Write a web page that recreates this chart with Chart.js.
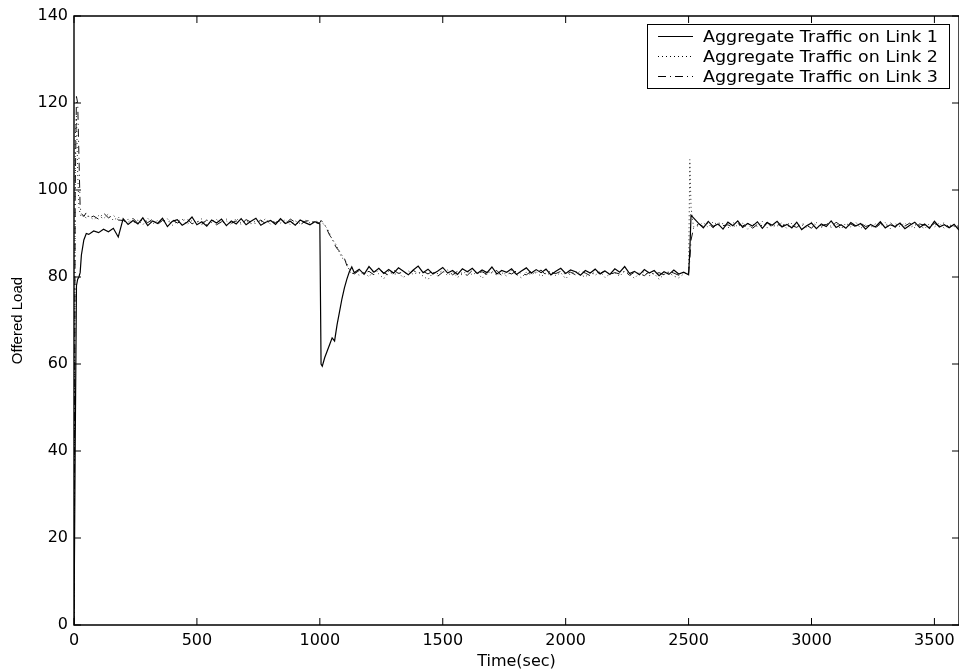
<!DOCTYPE html>
<html><head><meta charset="utf-8">
<script src="https://cdn.jsdelivr.net/npm/chart.js@4/dist/chart.umd.min.js"></script>
<style>html,body{margin:0;padding:0;background:#fff;overflow:hidden}canvas{display:block}</style>
</head><body>
<canvas id="c" width="959" height="671"></canvas>
<script>
const seriesNames = ['Aggregate Traffic on Link 1','Aggregate Traffic on Link 2','Aggregate Traffic on Link 3'];
const xTickValues = [0,500,1000,1500,2000,2500,3000,3500];
const yTickValues = [0,20,40,60,80,100,120,140];

const times = [
0,5,10,15,20,25,30,40,50,60,
80,100,120,140,160,180,200,220,240,260,
280,300,320,340,360,380,400,420,440,460,
480,500,520,540,560,580,600,620,640,660,
680,700,720,740,760,780,800,820,840,860,
880,900,920,940,960,980,1000,
1005,1010,1020,1030,1040,1050,1060,1070,1080,1090,1100,1110,1120,1130,1140,
1160,1180,1200,1220,1240,1260,1280,1300,1320,1340,
1360,1380,1400,1420,1440,1460,1480,1500,1520,1540,
1560,1580,1600,1620,1640,1660,1680,1700,1720,1740,
1760,1780,1800,1820,1840,1860,1880,1900,1920,1940,
1960,1980,2000,2020,2040,2060,2080,2100,2120,2140,
2160,2180,2200,2220,2240,2260,2280,2300,2320,2340,
2360,2380,2400,2420,2440,2460,2480,2500,
2505,2510,2520,
2540,2560,2580,2600,2620,2640,2660,2680,2700,2720,
2740,2760,2780,2800,2820,2840,2860,2880,2900,2920,
2940,2960,2980,3000,3020,3040,3060,3080,3100,3120,
3140,3160,3180,3200,3220,3240,3260,3280,3300,3320,
3340,3360,3380,3400,3420,3440,3460,3480,3500,3520,
3540,3560,3580,3600];

const link1 = [
0,42,78,79.5,80,81,85,88.5,90,89.8,
90.6,90.2,91.0,90.4,91.2,89.2,93.4,92.1,93.0,92.2,
93.6,91.8,92.9,92.3,93.5,91.6,92.8,93.2,91.9,92.6,
93.8,92.0,92.7,91.7,93.1,92.4,93.3,91.8,92.9,92.2,
93.4,92.0,92.8,93.5,91.9,92.6,93.0,92.1,93.4,92.3,
92.8,91.9,93.1,92.5,92.0,92.7,92.2,
60.0,59.5,61.5,63.0,64.5,66.0,65.3,69.0,72.0,75.0,77.5,79.5,81.2,82.3,81.0,
81.8,80.6,82.4,81.1,82.0,80.8,81.7,80.9,82.1,81.3,
80.5,81.6,82.5,81.0,81.8,80.7,81.4,82.2,80.9,81.5,
80.6,81.9,81.2,82.0,80.8,81.6,81.0,82.3,80.7,81.5,
81.1,81.9,80.6,81.4,82.1,80.9,81.7,81.0,81.8,80.5,
81.3,82.0,80.8,81.6,81.2,80.4,81.5,80.9,81.8,80.7,
81.4,80.6,81.9,81.1,82.4,80.8,81.3,80.5,81.7,80.9,
81.5,80.3,81.2,80.6,81.6,80.7,81.1,80.5,
86,94.2,93.6,
92.4,91.3,92.8,91.6,92.2,91.0,92.6,91.8,92.9,91.4,
92.3,91.7,92.7,91.2,92.5,91.9,92.8,91.5,92.1,91.3,
92.6,90.9,91.8,92.4,91.1,92.2,91.6,92.9,91.4,92.0,
91.2,92.5,91.7,92.3,91.0,92.1,91.5,92.7,91.3,92.0,
91.6,92.4,91.1,91.9,92.6,91.4,92.2,91.2,92.8,91.5,
92.0,91.3,92.1,90.8];

const link2 = [
0,112,117,104,96,94.5,93.8,94.2,93.5,94.0,
93.2,94.1,93.4,94.5,93.0,93.8,92.6,93.3,92.4,93.1,
92.0,93.5,92.2,93.0,92.7,93.4,91.9,92.8,93.3,92.1,
93.0,92.5,93.4,92.0,92.8,93.2,92.3,92.9,92.0,93.5,
92.4,92.9,92.2,93.0,92.6,93.4,92.1,92.8,92.4,93.2,
92.0,92.9,92.3,93.1,92.4,92.9,92.6,
92.8,92.5,91.8,91.2,90.0,88.6,88.0,87.0,85.6,84.4,84.0,83.2,81.5,80.6,81.2,
80.4,81.2,80.0,81.6,80.7,79.6,81.3,80.5,81.0,79.8,
81.4,80.6,81.1,80.2,79.4,81.0,80.8,81.5,80.3,81.2,
79.9,80.7,81.4,80.5,81.1,79.7,80.9,81.3,80.4,81.0,
80.2,81.5,80.6,79.8,81.1,80.5,81.2,80.1,80.9,81.4,
80.3,81.0,79.6,80.8,81.3,80.5,80.0,81.1,80.4,81.2,
79.9,80.7,81.0,80.2,81.4,80.6,79.7,80.9,81.2,80.3,
80.8,79.5,80.6,81.0,80.2,79.8,80.7,81.0,
107,96,91.5,
91.8,92.5,91.4,92.7,91.9,92.3,91.2,92.6,91.5,92.4,
91.0,92.2,91.6,92.8,91.3,92.1,91.7,92.5,91.1,92.4,
91.8,92.0,91.4,92.6,91.9,91.3,92.5,91.6,92.3,91.0,
92.4,91.5,92.6,91.2,92.0,91.4,92.2,91.7,92.5,91.1,
92.3,91.6,92.4,91.3,92.0,91.8,91.1,92.3,91.5,92.4,
91.2,92.0,91.6,91.4];

const link3 = [
0,100,121.5,120,108,96,94.6,93.9,94.8,93.6,
94.0,93.3,94.7,93.6,94.2,93.1,93.0,92.6,93.5,92.3,
93.2,92.5,93.3,92.1,93.0,92.6,93.2,92.4,92.9,93.4,
92.2,92.8,92.1,93.1,92.5,92.0,92.7,93.3,92.4,92.9,
92.1,93.2,92.6,92.3,93.1,92.2,92.9,92.5,93.0,92.2,
93.3,92.6,92.0,92.8,93.0,92.3,92.5,
93.0,92.7,92.0,90.8,89.6,88.8,87.5,86.5,86.0,85.0,84.3,82.6,81.8,81.0,80.7,
81.5,80.9,81.3,80.5,81.7,81.0,80.4,81.6,80.8,81.2,
80.6,81.5,80.9,81.3,80.7,81.4,80.2,81.1,81.6,80.5,
81.3,80.8,80.4,81.5,80.9,81.2,80.6,81.0,81.5,80.3,
81.1,80.7,81.4,80.8,80.5,81.3,80.9,81.6,80.4,81.0,
80.8,81.3,80.6,81.1,80.5,81.4,80.9,80.3,81.2,80.8,
81.5,80.6,81.0,80.7,81.3,80.4,81.1,80.8,80.3,81.2,
80.6,81.0,80.5,81.3,80.9,80.4,81.0,80.8,
84,88.5,91.2,
92.2,91.6,92.4,91.3,92.6,91.8,92.0,91.4,92.3,91.7,
92.5,91.2,92.1,91.8,92.6,91.3,92.2,91.6,92.4,91.8,
91.4,92.3,91.9,91.2,92.5,91.7,92.1,91.4,92.6,91.8,
91.3,92.2,91.5,92.4,91.6,92.0,91.2,92.3,91.8,92.5,
91.4,92.1,91.7,92.4,91.3,92.2,91.9,91.5,92.3,91.7,
92.5,91.4,92.0,91.6];

const toPts = arr => times.map((t, i) => ({x: t, y: arr[i]}));

const framePlugin = {
  id: 'frame',
  afterDraw(chart) {
    const {ctx, chartArea: a, scales: {x, y}} = chart;
    ctx.save();
    ctx.strokeStyle = '#000';
    ctx.lineWidth = 1.4;
    ctx.beginPath();
    ctx.rect(a.left, a.top, a.right - a.left, a.bottom - a.top);
    ctx.stroke();
    const L = 7;
    ctx.beginPath();
    x.ticks.forEach(t => {
      const px = x.getPixelForValue(t.value);
      ctx.moveTo(px, a.bottom); ctx.lineTo(px, a.bottom - L);
      ctx.moveTo(px, a.top); ctx.lineTo(px, a.top + L);
    });
    y.ticks.forEach(t => {
      const py = y.getPixelForValue(t.value);
      ctx.moveTo(a.left, py); ctx.lineTo(a.left + L, py);
      ctx.moveTo(a.right, py); ctx.lineTo(a.right - L, py);
    });
    ctx.lineWidth = 1;
    ctx.stroke();

    // legend box inside plot, top-right
    const bx = 647, by = a.top + 8, bw = 302, bh = 64;
    ctx.fillStyle = '#fff';
    ctx.fillRect(bx, by, bw, bh);
    ctx.lineWidth = 1;
    ctx.strokeRect(bx + 0.5, by + 0.5, bw, bh);
    ctx.font = '15.5px "DejaVu Sans"';
    ctx.textBaseline = 'alphabetic';
    ctx.fillStyle = '#000';
    const w0 = ctx.measureText(chart.data.datasets[0].label).width;
    const sx = 235 / w0;
    chart.data.datasets.forEach((ds, i) => {
      const cy = by + 12.5 + i * 20;
      ctx.save();
      ctx.setLineDash(ds.borderDash || []);
      ctx.lineWidth = ds.borderWidth;
      ctx.beginPath();
      ctx.moveTo(bx + 11, cy); ctx.lineTo(bx + 46, cy);
      ctx.stroke();
      ctx.restore();
      ctx.save();
      ctx.translate(bx + 56, cy + 5.8);
      ctx.scale(sx, 1);
      ctx.fillText(ds.label, 0, 0);
      ctx.restore();
    });
    ctx.restore();
  }
};

new Chart(document.getElementById('c'), {
  type: 'line',
  data: {
    datasets: [
      {label: seriesNames[0], data: toPts(link1), borderColor: '#000', borderWidth: 1.2, borderDash: []},
      {label: seriesNames[1], data: toPts(link2), borderColor: '#222', borderWidth: 1, borderDash: [1, 3]},
      {label: seriesNames[2], data: toPts(link3), borderColor: '#111', borderWidth: 1, borderDash: [8, 4, 1, 4]}
    ]
  },
  options: {
    responsive: false,
    animation: false,
    devicePixelRatio: 1,
    layout: {padding: {top: 16, right: 0, left: 0, bottom: 0}},
    elements: {point: {radius: 0}, line: {tension: 0, fill: false}},
    plugins: {legend: {display: false}, tooltip: {enabled: false}},
    scales: {
      x: {
        type: 'linear', min: 0, max: 3600,
        afterBuildTicks: s => { s.ticks = xTickValues.map(v => ({value: v})); },
        afterFit: s => { s.height = 46; s.paddingRight = 0; },
        grid: {display: false, drawTicks: false},
        border: {display: false},
        ticks: {color: '#000', font: {family: 'DejaVu Sans', size: 16}, padding: 6, maxRotation: 0, autoSkip: false,
                callback: v => String(v)},
        title: {display: true, text: 'Time(sec)', color: '#000', font: {family: 'DejaVu Sans', size: 16}, padding: {top: 0, bottom: 0}}
      },
      y: {
        type: 'linear', min: 0, max: 140,
        afterBuildTicks: s => { s.ticks = yTickValues.map(v => ({value: v})); },
        afterFit: s => { s.width = 74; },
        grid: {display: false, drawTicks: false},
        border: {display: false},
        ticks: {color: '#000', font: {family: 'DejaVu Sans', size: 16}, padding: 6, callback: v => String(v)},
        title: {display: true, text: 'Offered Load', color: '#000', font: {family: 'Liberation Sans', size: 15}, padding: {top: 9, bottom: 0}}
      }
    }
  },
  plugins: [framePlugin]
});
</script>
</body></html>
